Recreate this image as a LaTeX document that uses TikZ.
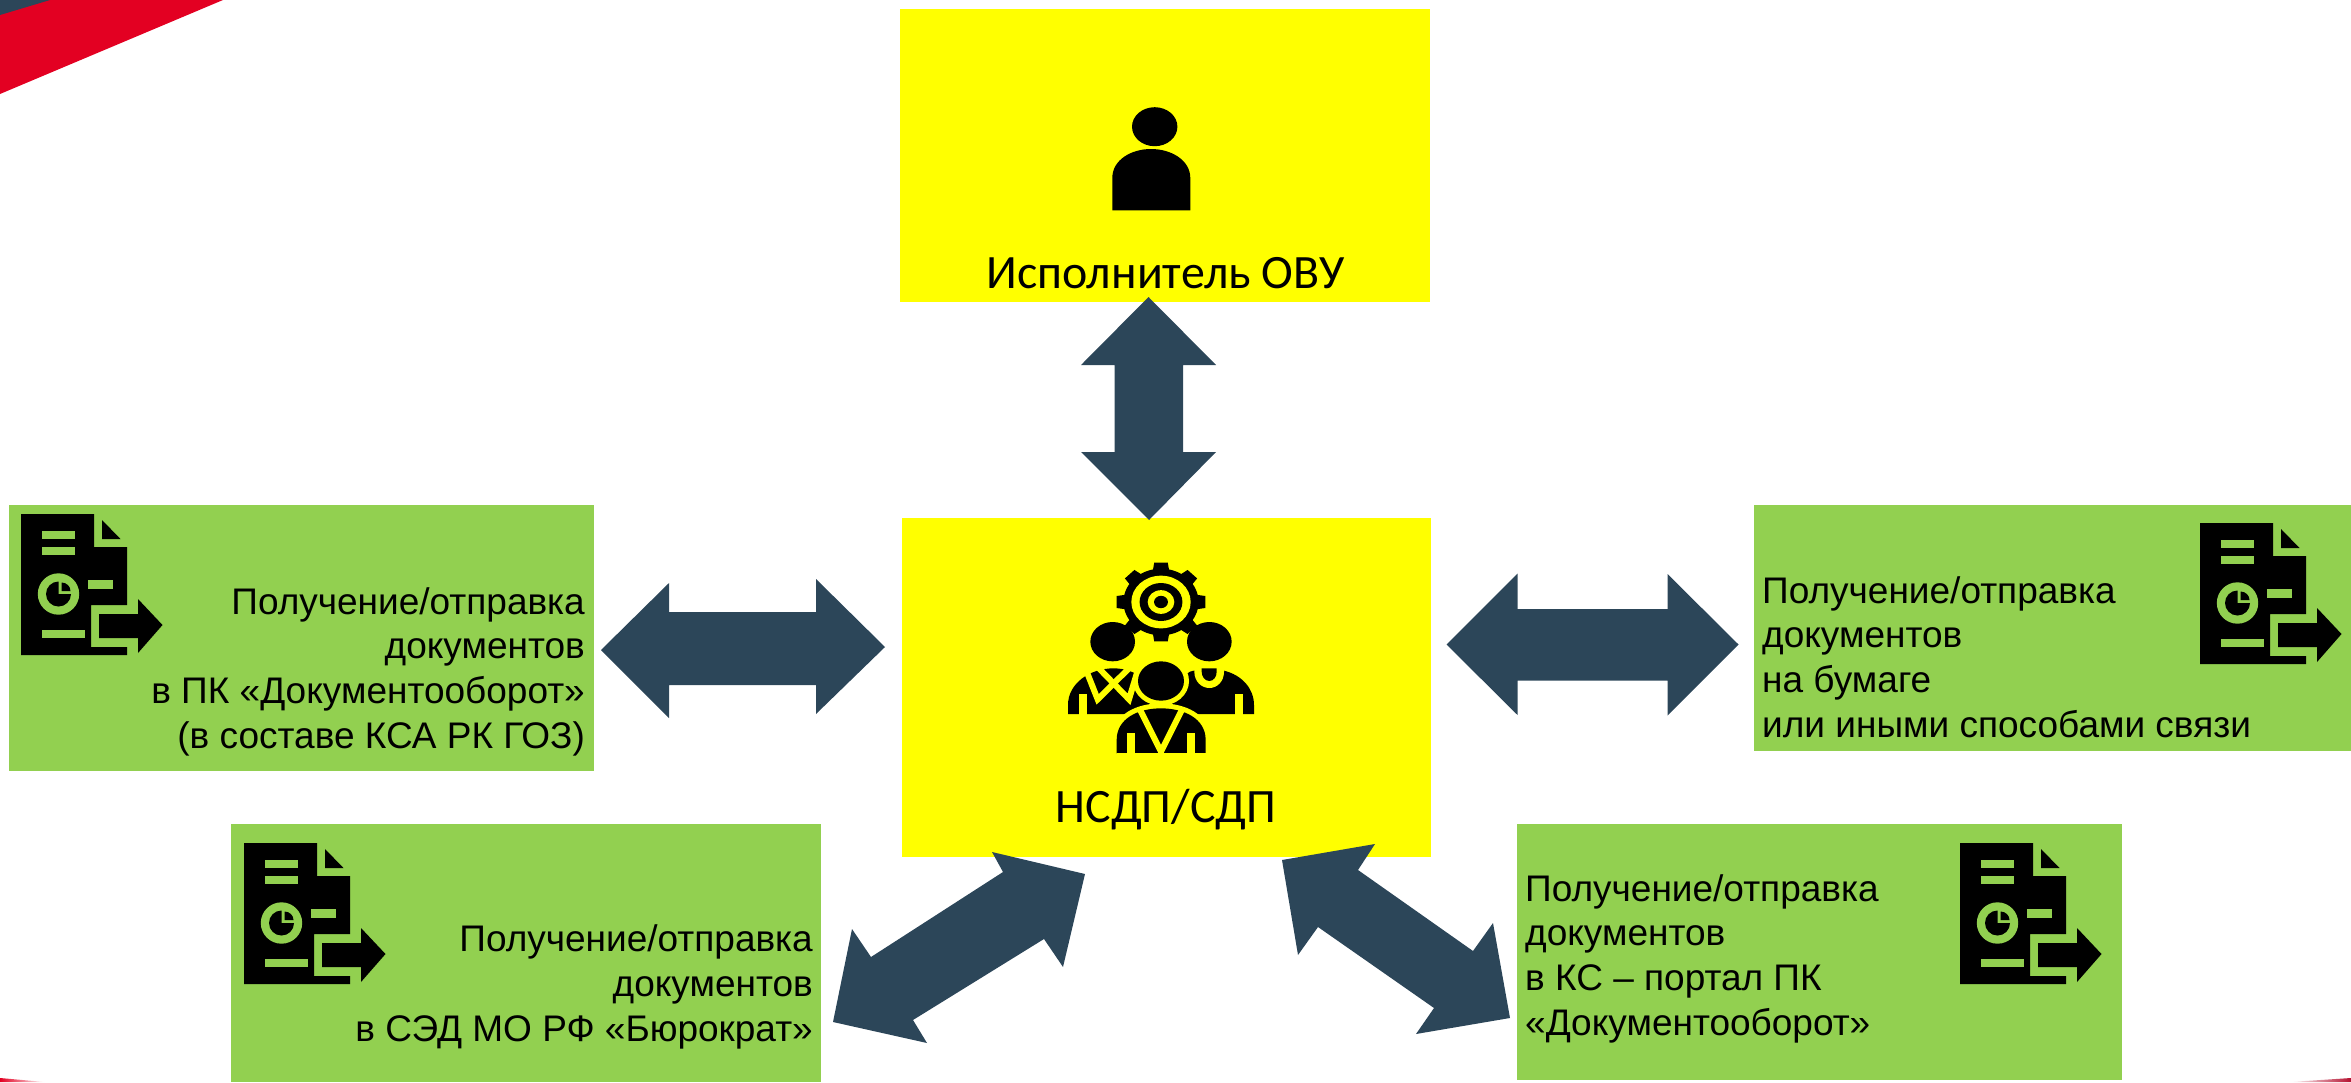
\documentclass[tikz,border=0pt]{standalone}
\usepackage{fontspec}
\setmainfont{Liberation Sans}
\newfontfamily\calibrifont{Carlito}
\definecolor{cYel}{HTML}{FFFF00}
\definecolor{cGrn}{HTML}{92D050}
\definecolor{cArr}{HTML}{2C4659}
\definecolor{cRed}{HTML}{E30022}
\definecolor{cRedD}{HTML}{B5102F}
\tikzset{
  yelbox/.style={fill=cYel,draw=none},
  grnbox/.style={fill=cGrn,draw=none},
  blockarrow/.style={fill=cArr,draw=none},
  grntext/.style={inner sep=0pt,font=\fontsize{37}{44.6}\selectfont,text=black},
  yeltext/.style={inner sep=0pt,font=\calibrifont\fontsize{47.9}{50}\selectfont,text=black,anchor=base},
  docicon/.pic={
    \fill[black] (0,0) -- (73,0) -- (73,33) -- (106,33) -- (106,91) -- (70,91) -- (70,133) -- (106,133) -- (106,141) -- (0,141) -- cycle;
    \fill[black] (81,6) -- (99.5,25) -- (81,25) -- cycle;
    \fill[black] (78,100) -- (117,100) -- (117,85) -- (141.5,111) -- (117,139) -- (117,124) -- (78,124) -- cycle;
    \fill[cGrn] (20.5,17) rectangle (54,25);
    \fill[cGrn] (20.5,33) rectangle (54,41);
    \fill[cGrn] (67,66) rectangle (92,75);
    \fill[cGrn] (20.5,116) rectangle (64,124);
    \fill[cGrn] (37.5,80) circle [radius=20.7];
    \fill[black] (37.5,80) -- (37.5,67.5) arc [start angle=90,end angle=360,x radius=12.5,y radius=-12.5] -- cycle;
    \fill[black] (40.5,77) -- (40.5,68.5) arc [start angle=90,end angle=0,x radius=9,y radius=-8.5] -- cycle;
  }
}
\begin{document}
\begin{tikzpicture}[x=1pt,y=-1pt]
\useasboundingbox (0,0) rectangle (2351,1082);
% page corners
\fill[cRed] (0,0) -- (223,0) -- (0,94) -- cycle;
\fill[cArr] (0,0) -- (50,0) -- (0,15) -- cycle;
\shade[left color=cRed,right color=white] (0,1078) -- (45,1082) -- (0,1082) -- cycle;
\shade[left color=white,right color=cRedD] (2290,1082) -- (2351,1078) -- (2351,1082) -- cycle;
% boxes
\path[yelbox] (900,9) rectangle (1430,302);
\path[yelbox] (902,518) rectangle (1431,857);
\path[grnbox] (9,505) rectangle (594,771);
\path[grnbox] (1754,505) rectangle (2351,751);
\path[grnbox] (231,824) rectangle (821,1082);
\path[grnbox] (1517,824) rectangle (2122,1080);
% block arrows
\path[blockarrow] (1148.5,297) -- (1216,365) -- (1183,365) -- (1183,452) -- (1216,452) -- (1149,520) -- (1081,452) -- (1114.5,452) -- (1114.5,365) -- (1081,365) -- cycle;
\path[blockarrow] (601,650) -- (669,583) -- (669,612) -- (816,612) -- (816,579) -- (885,647) -- (816,714) -- (816,685) -- (669,685) -- (669,718) -- cycle;
\path[blockarrow] (1446.5,644.5) -- (1517.5,573.5) -- (1517.5,609) -- (1667.5,609) -- (1667.5,574) -- (1738.5,644.5) -- (1667.5,715.5) -- (1667.5,680.5) -- (1517.5,680.5) -- (1517.5,715) -- cycle;
\path[blockarrow] (992,852) -- (1085,874) -- (1063,967) -- (1044,939) -- (913,1020) -- (927,1043) -- (833,1022) -- (852,929) -- (871,957) -- (1003,872) -- cycle;
\path[blockarrow] (1375,844) -- (1358,870) -- (1473,951) -- (1493,923) -- (1510,1018) -- (1416,1034) -- (1434,1008) -- (1318,927) -- (1298,955) -- (1282,860) -- cycle;
% person icon
\fill[black] (1154.7,126.7) ellipse [x radius=22.7,y radius=19.5];
\fill[black] (1112.3,210.3) -- (1112.3,178) .. controls (1112.3,160) and (1131,149) .. (1151,149) .. controls (1171,149) and (1190.3,160) .. (1190.3,178) -- (1190.3,210.3) -- cycle;
% group icon
\begin{scope}[shift={(1000,540)},x=.33333pt,y=-.33333pt]
  % gear
  \begin{scope}[shift={(483,186)},xscale=1.127]
    \foreach \a in {0,45,...,315} {
      \fill[black,rotate=\a] (-18,-118) -- (18,-118) -- (24,-80) -- (-24,-80) -- cycle;
    }
    \fill[black] (0,0) circle [radius=100];
    \fill[cYel] (0,0) circle [radius=79];
    \fill[black] (0,0) circle [radius=57];
    \fill[cYel] (0,0) circle [radius=35.5];
    \fill[black] (0,0) circle [radius=18.5];
  \end{scope}
  % back heads
  \fill[black] (338,305) ellipse [x radius=67,y radius=59];
  \fill[black] (628,305) ellipse [x radius=67,y radius=59];
  % left body
  \fill[black] (204,522) -- (204,495) .. controls (204,430) and (270,385) .. (340,385) .. controls (410,385) and (470,430) .. (476,522) -- cycle;
  \fill[cYel] (238,463) rectangle (260,525);
  \draw[cYel,line width=6pt,line join=miter] (260,395) -- (293,478) -- (392,380);
  \draw[cYel,line width=6pt,line join=miter] (292,380) -- (387,478) -- (412,395);
  % right body
  \fill[black] (490,522) -- (490,450) -- (570,395) .. controls (590,388) and (640,385) .. (672,392) .. controls (725,405) and (762,445) .. (762,495) -- (762,522) -- cycle;
  \fill[cYel] (706,463) rectangle (729,525);
  \fill[cYel] (583,385) -- (583,395) .. controls (583,425) and (605,444) .. (628,444) .. controls (651,444) and (672,425) .. (672,395) -- (672,385) -- cycle;
  \fill[black] (605,385) -- (605,395) .. controls (605,410) and (615,423) .. (628,423) .. controls (641,423) and (650,410) .. (650,395) -- (650,385) -- cycle;
  % front person
  \draw[cYel,line width=10pt] (350,640) -- (350,600) .. controls (350,535) and (415,505) .. (483,505) .. controls (551,505) and (617,535) .. (617,600) -- (617,640) -- cycle;
  \fill[black] (350,640) -- (350,600) .. controls (350,535) and (415,505) .. (483,505) .. controls (551,505) and (617,535) .. (617,600) -- (617,640) -- cycle;
  \fill[cYel] (380,580) rectangle (405,645);
  \fill[cYel] (561,580) rectangle (584,645);
  \draw[cYel,line width=6pt,line join=miter,miter limit=10] (418,505) -- (483,635) -- (548,505);
  \fill[cYel] (350,640) rectangle (617,660);
  \draw[cYel,line width=10pt] (483,423) ellipse [x radius=69,y radius=59];
  \fill[black] (483,423) ellipse [x radius=69,y radius=59];
\end{scope}
% document icons
\pic at (21,514) {docicon};
\pic at (2200,523) {docicon};
\pic at (244,843) {docicon};
\pic at (1960,843) {docicon};
% texts
\node[yeltext] (ispoln) at (1165.5,288.5) {Исполнитель ОВУ};
\node[yeltext] (nsdp) at (1166,822) {НСДП/СДП};
\node[grntext,anchor=base east,align=right] (tleft) at (585,748) {Получение/отправка\\документов\\в ПК «Документооборот»\\(в составе КСА РК ГОЗ)};
\node[grntext,anchor=base west,align=left] (tright) at (1762,737) {Получение/отправка\\документов\\на бумаге\\или иными способами связи};
\node[grntext,anchor=base east,align=right] (tbl) at (813,1041) {Получение/отправка\\документов\\в СЭД МО РФ «Бюрократ»};
\node[grntext,anchor=base west,align=left] (tbr) at (1525,1035) {Получение/отправка\\документов\\в КС – портал ПК\\«Документооборот»};
\end{tikzpicture}
\end{document}
